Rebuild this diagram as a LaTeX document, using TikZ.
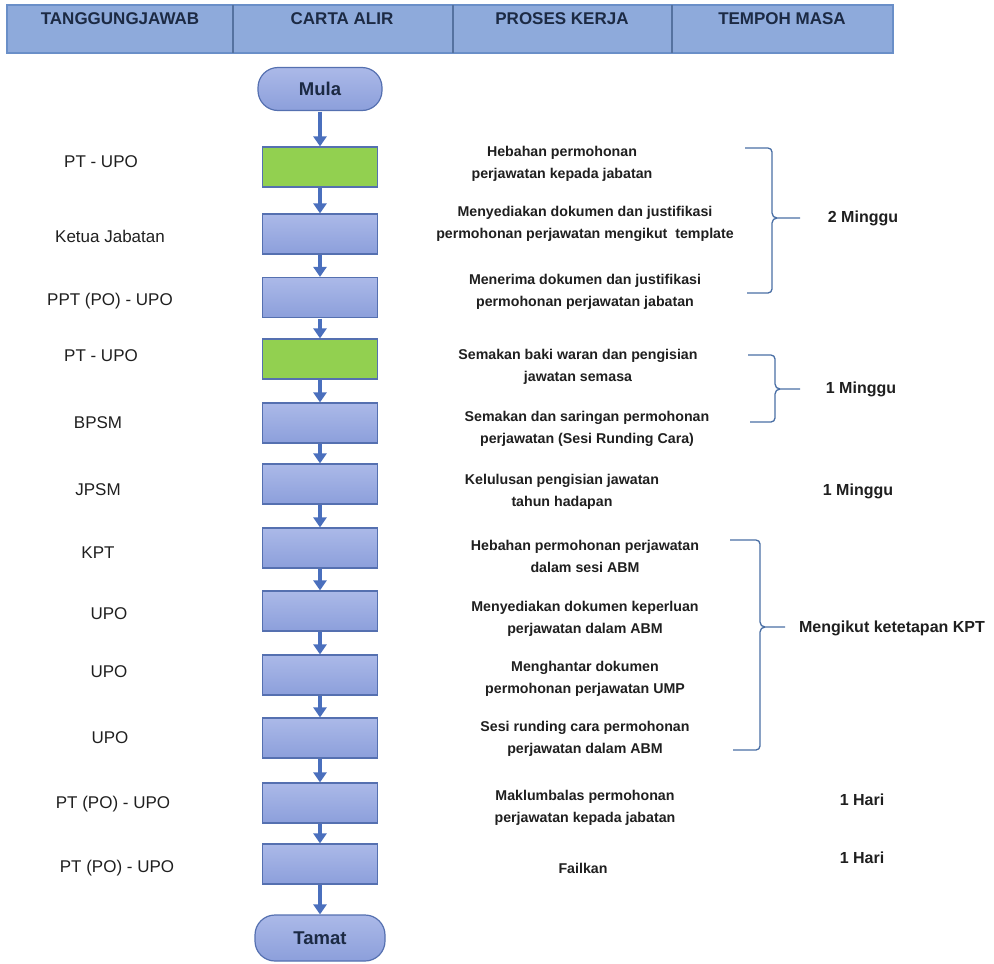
\documentclass[tikz,border=0pt]{standalone}
\usepackage{fontspec}
\setmainfont{Liberation Sans}
\usetikzlibrary{arrows.meta,shapes.misc}
\definecolor{hdrfill}{HTML}{8EAADB}
\definecolor{hdrline}{HTML}{6A8FC8}
\definecolor{boxtop}{HTML}{ABB9E8}
\definecolor{boxbot}{HTML}{8C9FDB}
\definecolor{boxline}{HTML}{5570B0}
\definecolor{grn}{HTML}{92D050}
\definecolor{arrowc}{HTML}{4A6FBD}
\definecolor{bracec}{HTML}{4A6FA5}
\definecolor{txt}{HTML}{1F1F1F}
\definecolor{hdrtxt}{HTML}{1C2A44}
\begin{document}
\begin{tikzpicture}[x=1pt,y=-1pt,
  hdrtext/.style={font=\fontsize{17}{20}\selectfont\bfseries, text=hdrtxt, inner sep=0},
  procbox/.style={draw=boxline, line width=1.2pt, top color=boxtop, bottom color=boxbot, minimum width=115pt, minimum height=40pt, inner sep=0},
  grnbox/.style={draw=boxline, line width=1.2pt, fill=grn, minimum width=115pt, minimum height=40pt, inner sep=0},
  termbox/.style={draw=boxline, line width=1.2pt, top color=boxtop, bottom color=boxbot, rounded corners=20pt, minimum width=124pt, minimum height=43pt, inner sep=0, font=\fontsize{18.5}{21}\selectfont\bfseries, text=hdrtxt},
  who/.style={font=\fontsize{17}{20}\selectfont, text=txt, inner sep=0},
  proc/.style={font=\fontsize{14.2}{22}\selectfont\bfseries, text=txt, align=center, inner sep=0},
  tempo/.style={font=\fontsize{16}{19}\selectfont\bfseries, text=txt, inner sep=0},
  flow/.style={draw=arrowc, line width=4pt, -{Triangle[width=13pt,length=10pt]}, shorten <=0.6pt},
  bracel/.style={draw=bracec, line width=1.3pt}
]
\useasboundingbox (0,0) rectangle (994,964);
% header
\fill[hdrfill] (7,5) rectangle (893,53);
\draw[hdrline, line width=2.5pt] (7,5) rectangle (893,53);
\draw[hdrline!80!black, line width=1.5pt] (233,5) -- (233,53) (453,5) -- (453,53) (672,5) -- (672,53);
\node[hdrtext] (h1) at (120,19) {TANGGUNGJAWAB};
\node[hdrtext] (h2) at (342,19) {CARTA ALIR};
\node[hdrtext] (h3) at (562,19) {PROSES KERJA};
\node[hdrtext] (h4) at (782,19) {TEMPOH MASA};
% flow chart
\node[termbox] (mula) at (320,89) {Mula};
\node[grnbox] (b1) at (320,167) {};
\node[procbox] (b2) at (320,234) {};
\node[procbox] (b3) at (320,297.5) {};
\node[grnbox] (b4) at (320,359) {};
\node[procbox] (b5) at (320,423) {};
\node[procbox] (b6) at (320,484) {};
\node[procbox] (b7) at (320,548) {};
\node[procbox] (b8) at (320,611) {};
\node[procbox] (b9) at (320,675) {};
\node[procbox] (b10) at (320,738) {};
\node[procbox] (b11) at (320,803) {};
\node[procbox] (b12) at (320,864) {};
\node[termbox, minimum width=130pt, minimum height=46pt] (tamat) at (320,938) {Tamat};
\foreach \a/\b in {mula/b1,b1/b2,b2/b3,b3/b4,b4/b5,b5/b6,b6/b7,b7/b8,b8/b9,b9/b10,b10/b11,b11/b12,b12/tamat}
  \draw[flow] (\a.south) -- (\b.north);
% responsibility
\node[who] (w1) at (101,162) {PT - UPO};
\node[who] (w2) at (110,236) {Ketua Jabatan};
\node[who] (w3) at (110,301) {PPT (PO) - UPO};
\node[who] (w4) at (101,356) {PT - UPO};
\node[who] (w5) at (98,423) {BPSM};
\node[who] (w6) at (98,490) {JPSM};
\node[who] (w7) at (98,553) {KPT};
\node[who] (w8) at (109,614) {UPO};
\node[who] (w9) at (109,672) {UPO};
\node[who] (w10) at (110,738) {UPO};
\node[who] (w11) at (113,804) {PT (PO) - UPO};
\node[who] (w12) at (117,868) {PT (PO) - UPO};
% process text
\node[proc] (p1) at (562,164) {Hebahan permohonan\\perjawatan kepada jabatan};
\node[proc] (p2) at (585,224) {Menyediakan dokumen dan justifikasi\\permohonan perjawatan mengikut\ \ template};
\node[proc] (p3) at (585,292) {Menerima dokumen dan justifikasi\\permohonan perjawatan jabatan};
\node[proc] (p4) at (578,367) {Semakan baki waran dan pengisian\\jawatan semasa};
\node[proc] (p5) at (587,429) {Semakan dan saringan permohonan\\perjawatan (Sesi Runding Cara)};
\node[proc] (p6) at (562,492) {Kelulusan pengisian jawatan\\tahun hadapan};
\node[proc] (p7) at (585,556) {Hebahan permohonan perjawatan\\dalam sesi ABM};
\node[proc] (p8) at (585,619) {Menyediakan dokumen keperluan\\perjawatan dalam ABM};
\node[proc] (p9) at (585,679) {Menghantar dokumen\\permohonan perjawatan UMP};
\node[proc] (p10) at (585,739) {Sesi runding cara permohonan\\perjawatan dalam ABM};
\node[proc] (p11) at (585,808) {Maklumbalas permohonan\\perjawatan kepada jabatan};
\node[proc] (p12) at (583,868) {Failkan};
% braces
\draw[bracel] (745,148) -- (768,148) to[out=0,in=90] (772,152) -- (772,213) to[out=-90,in=180] (777,218) -- (800,218);
\draw[bracel] (747,293) -- (768,293) to[out=0,in=-90] (772,289) -- (772,223) to[out=90,in=180] (777,218);
\draw[bracel] (748,355) -- (771,355) to[out=0,in=90] (775,359) -- (775,384) to[out=-90,in=180] (780,389) -- (800,389);
\draw[bracel] (750,422) -- (771,422) to[out=0,in=-90] (775,418) -- (775,394) to[out=90,in=180] (780,389);
\draw[bracel] (730,540) -- (756,540) to[out=0,in=90] (760,544) -- (760,622) to[out=-90,in=180] (765,627) -- (785,627);
\draw[bracel] (733,750) -- (756,750) to[out=0,in=-90] (760,746) -- (760,632) to[out=90,in=180] (765,627);
% durations
\node[tempo] (t1) at (863,218) {2 Minggu};
\node[tempo] (t2) at (861,389) {1 Minggu};
\node[tempo] (t3) at (858,491) {1 Minggu};
\node[tempo] (t4) at (892,628) {Mengikut ketetapan KPT};
\node[tempo] (t5) at (862,800) {1 Hari};
\node[tempo] (t6) at (862,858) {1 Hari};
\end{tikzpicture}
\end{document}
